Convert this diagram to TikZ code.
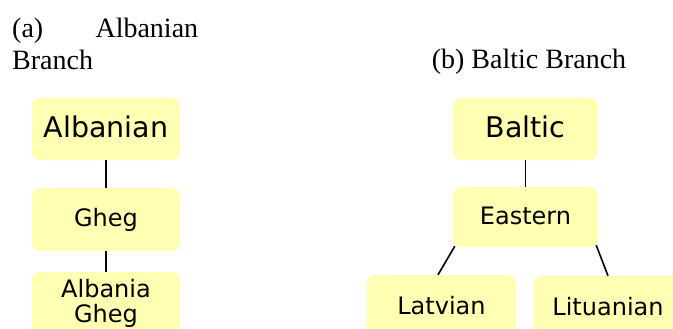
\documentclass[tikz,border=0pt]{standalone}
\usepackage{fontspec}
\setmainfont{Liberation Serif}
\newfontfamily\boxfont{DejaVu Sans}
\definecolor{boxyellow}{HTML}{FFFFB3}
\begin{document}
\begin{tikzpicture}[x=1pt,y=-1pt,
  box/.style={fill=boxyellow, rounded corners=8pt, inner sep=0pt, minimum width=148pt, align=center},
  bigtext/.style={font=\boxfont\fontsize{28.5}{32}\selectfont, text height=22.5pt, text depth=5.5pt},
  smalltext/.style={font=\boxfont\fontsize{24}{26}\selectfont, text height=19pt, text depth=4.6pt},
  twoline/.style={font=\boxfont\fontsize{24}{25.5}\selectfont},
  caption/.style={font=\fontsize{28}{32}\selectfont, inner sep=0pt},
  link/.style={draw=black, line width=1.6pt}]
\useasboundingbox (0,0) rectangle (673,329);
\clip (0,0) rectangle (673,329);
\fill[white] (0,0) rectangle (673,329);

% captions
\node[caption, anchor=north west, text width=186pt, align=justify] (capa) at (12,18)
  {\tolerance=10000 (a) Albanian Branch};
\node[caption, anchor=base] (capb) at (529,69) {(b) Baltic Branch};

% (a) Albanian branch
\node[box, bigtext, minimum height=62pt] (albanian) at (106,129) {Albanian};
\node[box, smalltext, minimum height=63pt] (gheg) at (106,219.5) {Gheg};
\node[box, twoline, minimum height=63pt] (agheg) at (106,303.5) {Albania\\Gheg};
\draw[link] (albanian) -- (gheg);
\draw[link] (gheg) -- (agheg);

% (b) Baltic branch
\node[box, bigtext, minimum height=62pt, minimum width=145pt] (baltic) at (525.5,129) {Baltic};
\node[box, smalltext, minimum height=60pt, minimum width=145pt] (eastern) at (525.5,217) {Eastern};
\node[box, smalltext, minimum height=64pt, minimum width=149pt] (latvian) at (441.5,307) {Latvian};
\node[box, smalltext, minimum height=64pt] (lituanian) at (608,308) {Lituanian};
\draw[link] (baltic) -- (eastern);
\draw[link] ([shift={(2,-1)}]eastern.south west) -- ([xshift=-3.5pt]latvian.north);
\draw[link] ([shift={(-2,-2)}]eastern.south east) -- (lituanian.north);
\end{tikzpicture}
\end{document}
